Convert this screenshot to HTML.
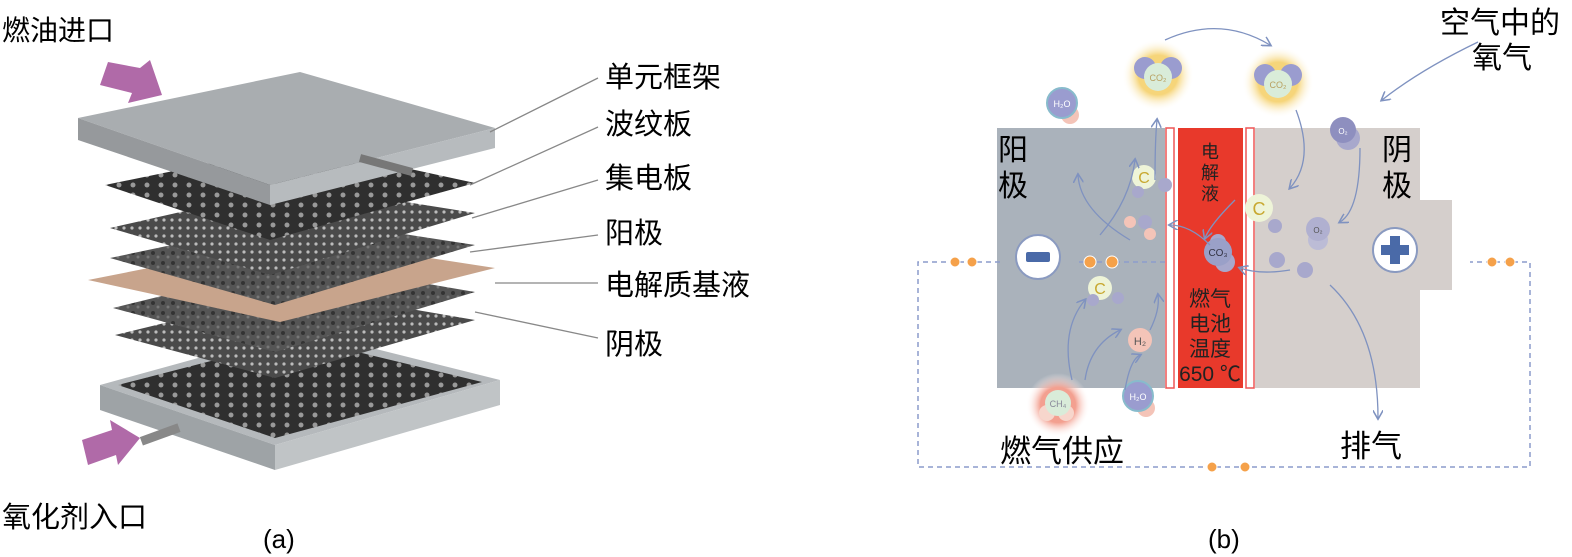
<!DOCTYPE html>
<html><head><meta charset="utf-8"><style>
body{margin:0;background:#fff}
svg{display:block}
text{font-family:"Liberation Sans","Noto Sans CJK SC",sans-serif}
</style></head><body>
<svg width="1572" height="557" viewBox="0 0 1572 557" xmlns="http://www.w3.org/2000/svg">
<defs>
<pattern id="dots" width="8" height="8" patternUnits="userSpaceOnUse"><rect width="8" height="8" fill="#4a4a4a"/><circle cx="4" cy="4" r="1.6" fill="#bbb"/></pattern>
<pattern id="big" width="14" height="10" patternUnits="userSpaceOnUse"><rect width="14" height="10" fill="#2f2f2f"/><circle cx="7" cy="5" r="2.5" fill="#999"/></pattern>
<pattern id="rough" width="10" height="10" patternUnits="userSpaceOnUse"><rect width="10" height="10" fill="#555"/><circle cx="3" cy="3" r="2" fill="#333"/><circle cx="8" cy="7" r="1.5" fill="#777"/></pattern>
<marker id="ar" markerWidth="8" markerHeight="8" refX="6" refY="4" orient="auto"><path d="M0,0 L7,4 L0,8" fill="none" stroke="#7f92c0" stroke-width="1.2"/></marker>
<radialGradient id="gy"><stop offset="0.55" stop-color="#f6d57a"/><stop offset="1" stop-color="#fff" stop-opacity="0"/></radialGradient>
<radialGradient id="gr"><stop offset="0.55" stop-color="#f3a090"/><stop offset="1" stop-color="#fff" stop-opacity="0"/></radialGradient>
</defs>

<!-- LEFT PANEL -->
<text x="2" y="40" font-size="28">燃油进口</text>
<text x="2" y="527" font-size="29">氧化剂入口</text>
<text x="263" y="548" font-size="26">(a)</text>

<!-- bottom frame -->
<polygon points="100,385 300,330 500,380 275,445" fill="#b5b9bc"/>
<polygon points="100,385 275,445 275,470 100,410" fill="#9ea3a6"/>
<polygon points="275,445 500,380 500,405 275,470" fill="#c0c4c6"/>
<polygon points="118,385 300,338 482,382 275,438" fill="url(#big)"/>
<rect x="140" y="430" width="40" height="9" fill="#888" transform="rotate(-20 160 434)"/>
<polygon points="115,335 300,290 475,320 275,378" fill="url(#dots)"/>
<polygon points="113,308 300,262 475,292 275,352" fill="url(#rough)"/>
<polygon points="88,280 300,238 495,268 280,322" fill="#c8a48c"/>
<polygon points="110,258 300,218 475,245 275,305" fill="url(#rough)"/>
<polygon points="110,228 300,185 475,213 270,275" fill="url(#dots)"/>
<polygon points="105,185 300,145 475,183 270,240" fill="url(#big)"/>
<!-- top plate -->
<polygon points="78,118 300,72 495,128 270,185" fill="#a9adb0"/>
<polygon points="78,118 270,185 270,205 78,140" fill="#96999c"/>
<polygon points="270,185 495,128 495,148 270,205" fill="#b7bbbe"/>
<line x1="360" y1="158" x2="412" y2="172" stroke="#777" stroke-width="8"/>
<polygon points="108,62 140,68 150,60 162,95 128,103 132,93 100,85" fill="#b06aa8"/>
<polygon points="82,440 112,430 110,420 140,438 118,465 116,455 88,465" fill="#b06aa8"/>
<g stroke="#888" stroke-width="1.3" fill="none">
<line x1="598" y1="78" x2="490" y2="132"/>
<line x1="598" y1="127" x2="470" y2="185"/>
<line x1="598" y1="180" x2="472" y2="218"/>
<line x1="598" y1="235" x2="470" y2="252"/>
<line x1="598" y1="283" x2="495" y2="283"/>
<line x1="598" y1="338" x2="475" y2="312"/>
</g>
<g font-size="29">
<text x="605" y="87">单元框架</text>
<text x="605" y="134">波纹板</text>
<text x="605" y="188">集电板</text>
<text x="605" y="243">阳极</text>
<text x="605" y="295">电解质基液</text>
<text x="605" y="354">阴极</text>
</g>

<!-- RIGHT PANEL -->
<rect x="997" y="128" width="168" height="260" fill="#aab2bb"/>
<rect x="1255" y="128" width="165" height="260" fill="#d5cfcc"/>
<rect x="1420" y="200" width="32" height="90" fill="#d5cfcc"/>
<rect x="1165" y="128" width="90" height="260" fill="#fff"/>
<rect x="1166" y="128" width="8" height="260" fill="#fff" stroke="#e55" stroke-width="1.5"/>
<rect x="1246" y="128" width="8" height="260" fill="#fff" stroke="#e55" stroke-width="1.5"/>
<rect x="1178" y="128" width="65" height="260" fill="#e8392b"/>
<text x="1210" y="158" font-size="18" text-anchor="middle" fill="#222">电</text>
<text x="1210" y="179" font-size="18" text-anchor="middle" fill="#222">解</text>
<text x="1210" y="200" font-size="18" text-anchor="middle" fill="#222">液</text>
<g font-size="21" text-anchor="middle" fill="#222">
<text x="1210" y="306">燃气</text><text x="1210" y="331">电池</text><text x="1210" y="356">温度</text><text x="1210" y="381">650 ℃</text>
</g>
<text x="998" y="160" font-size="30">阳</text><text x="998" y="196" font-size="30">极</text>
<text x="1382" y="160" font-size="30">阴</text><text x="1382" y="196" font-size="30">极</text>
<text x="1000" y="462" font-size="31">燃气供应</text>
<text x="1340" y="457" font-size="31">排气</text>
<text x="1440" y="33" font-size="30">空气中的</text>
<text x="1472" y="68" font-size="30">氧气</text>
<text x="1208" y="548" font-size="26">(b)</text>

<g stroke="#8c9ccc" stroke-width="1.5" fill="none" stroke-dasharray="5,4">
<polyline points="1000,262 918,262 918,467 1530,467 1530,262 1470,262"/>
<line x1="1165" y1="262" x2="1075" y2="262"/>
</g>
<g fill="#f5a14a" stroke="#fff" stroke-width="1">
<circle cx="955" cy="262" r="5"/><circle cx="972" cy="262" r="5"/>
<circle cx="1090" cy="262" r="6"/><circle cx="1112" cy="262" r="6"/>
<circle cx="1492" cy="262" r="5"/><circle cx="1510" cy="262" r="5"/>
<circle cx="1212" cy="467" r="5"/><circle cx="1245" cy="467" r="5"/>
</g>
<circle cx="1038" cy="257" r="22" fill="#fff" stroke="#8a9ac0" stroke-width="2"/>
<rect x="1026" y="252" width="24" height="10" rx="2" fill="#4a6aa8"/>
<circle cx="1395" cy="250" r="22" fill="#fff" stroke="#8a9ac0" stroke-width="2"/>
<path d="M1390,236h10v9h9v10h-9v9h-10v-9h-9v-10h9z" fill="#4a6aa8"/>

<!-- molecules -->
<circle cx="1158" cy="75" r="36" fill="url(#gy)"/><circle cx="1145" cy="68" r="11" fill="#9a9ccf"/><circle cx="1171" cy="68" r="11" fill="#9a9ccf"/><circle cx="1158" cy="77" r="14" fill="#d9ecd9"/><text x="1158" y="81" font-size="9" text-anchor="middle" fill="#b8a060">CO₂</text>
<circle cx="1278" cy="82" r="36" fill="url(#gy)"/><circle cx="1265" cy="75" r="11" fill="#9a9ccf"/><circle cx="1291" cy="75" r="11" fill="#9a9ccf"/><circle cx="1278" cy="84" r="14" fill="#d9ecd9"/><text x="1278" y="88" font-size="9" text-anchor="middle" fill="#b8a060">CO₂</text>
<circle cx="1070" cy="115" r="9" fill="#f4c4b8"/><circle cx="1062" cy="103" r="15" fill="#9a9ccf" stroke="#8bc" stroke-width="2"/><text x="1062" y="107" font-size="9" text-anchor="middle" fill="#fff">H₂O</text>
<circle cx="1146" cy="408" r="9" fill="#f4c4b8"/><circle cx="1138" cy="396" r="15" fill="#9a9ccf" stroke="#8bc" stroke-width="2"/><text x="1138" y="400" font-size="9" text-anchor="middle" fill="#fff">H₂O</text>
<circle cx="1058" cy="405" r="32" fill="url(#gr)"/><circle cx="1047" cy="413" r="8" fill="#f7d6cc"/><circle cx="1066" cy="413" r="8" fill="#f7d6cc"/><circle cx="1058" cy="403" r="13" fill="#d9ecd9"/><text x="1058" y="407" font-size="9" text-anchor="middle" fill="#889">CH₄</text>
<circle cx="1348" cy="138" r="12" fill="#a8a8cc"/><circle cx="1343" cy="130" r="13" fill="#8e8fbf"/><text x="1343" y="134" font-size="8" text-anchor="middle" fill="#fff">O₂</text>
<circle cx="1318" cy="240" r="10" fill="#bcbcd6"/><circle cx="1318" cy="229" r="12" fill="#b0b0d0"/><text x="1318" y="233" font-size="8" text-anchor="middle" fill="#555">O₂</text>
<circle cx="1144" cy="177" r="12" fill="#eef4d8"/><text x="1144" y="183" font-size="16" text-anchor="middle" fill="#c8a830">C</text>
<circle cx="1259" cy="208" r="14" fill="#eef4d8"/><text x="1259" y="215" font-size="18" text-anchor="middle" fill="#c8a830">C</text>
<circle cx="1100" cy="288" r="12" fill="#eef4d8"/><text x="1100" y="294" font-size="16" text-anchor="middle" fill="#c8a830">C</text>
<circle cx="1225" cy="262" r="10" fill="#a8a8cc"/><circle cx="1218" cy="242" r="8" fill="#a8a8cc"/><circle cx="1218" cy="252" r="14" fill="#9aa0c8"/><text x="1218" y="256" font-size="10" text-anchor="middle" fill="#334">CO₃</text>
<circle cx="1140" cy="340" r="12" fill="#f4c4b8"/><text x="1140" y="345" font-size="11" text-anchor="middle" fill="#555">H₂</text>
<g fill="#a8a8cc"><circle cx="1138" cy="192" r="6"/><circle cx="1165" cy="185" r="7"/><circle cx="1145" cy="222" r="7"/><circle cx="1275" cy="226" r="7"/><circle cx="1277" cy="260" r="8"/><circle cx="1305" cy="270" r="8"/><circle cx="1093" cy="300" r="6"/><circle cx="1118" cy="298" r="6"/></g>
<g fill="#f4c4b8"><circle cx="1130" cy="222" r="6"/><circle cx="1150" cy="234" r="6"/></g>

<g stroke="#7f92c0" stroke-width="1.3" fill="none" marker-end="url(#ar)">
<path d="M1165,40 Q1220,15 1270,45"/>
<path d="M1478,42 Q1420,70 1382,100"/>
<path d="M1296,110 Q1315,160 1290,188"/>
<path d="M1360,148 Q1360,210 1340,222"/>
<path d="M1330,285 Q1378,330 1378,418"/>
<path d="M1155,180 Q1155,140 1157,120"/>
<path d="M1130,240 Q1080,210 1078,175"/>
<path d="M1100,235 Q1130,200 1135,160"/>
<path d="M1072,380 Q1060,330 1085,300"/>
<path d="M1085,380 Q1090,345 1120,330"/>
<path d="M1125,390 Q1130,360 1140,355"/>
<path d="M1150,330 Q1160,310 1158,295"/>
<path d="M1210,245 Q1190,225 1170,225"/>
<path d="M1235,200 Q1210,225 1205,238"/>
<path d="M1290,270 Q1260,275 1240,268"/>
</g>
</svg>
</body></html>
